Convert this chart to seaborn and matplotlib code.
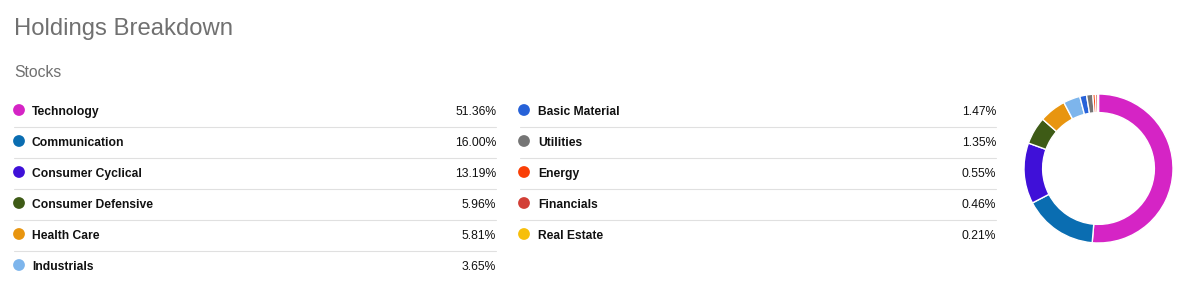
import matplotlib
matplotlib.use("Agg")
import matplotlib.pyplot as plt
import seaborn as sns
import pandas as pd

sns.set_style("white")
plt.rcParams['font.family'] = ['Liberation Sans', 'DejaVu Sans']

categories = ["Technology", "Communication", "Consumer Cyclical", "Consumer Defensive",
              "Health Care", "Industrials", "Basic Material", "Utilities", "Energy",
              "Financials", "Real Estate"]
values = [51.36, 16.00, 13.19, 5.96, 5.81, 3.65, 1.47, 1.35, 0.55, 0.46, 0.21]
colors = ["#d524c5", "#0a6db1", "#3f10d8", "#3e5b16", "#e8950f", "#7db5ec",
          "#2762d8", "#757575", "#fa3f06", "#d23f36", "#f7bf0b"]

W, H = 1201, 288
fig = plt.figure(figsize=(W / 100, H / 100), dpi=100)
fig.patch.set_facecolor("white")

# overlay axes in pixel coordinates
ax = fig.add_axes([0, 0, 1, 1])
ax.set_xlim(0, W)
ax.set_ylim(H, 0)
ax.axis("off")

ax.text(14, 35, "Holdings Breakdown", fontsize=17.2, color="#707070", va="baseline", ha="left")
ax.text(14, 77, "Stocks", fontsize=11.3, color="#707070", va="baseline", ha="left")

row0, dy = 110, 31
cols = [dict(dot=19, lab=32, val=496, l=14, r=496),
        dict(dot=524, lab=538, val=996, l=520, r=996)]
rows_per_col = 6

dot_x, dot_y = [], []
for i, (cat, v) in enumerate(zip(categories, values)):
    c = cols[i // rows_per_col]
    r = i % rows_per_col
    y = row0 + r * dy
    dot_x.append(c["dot"])
    dot_y.append(y)
    ax.text(c["lab"], y + 4.8, cat, fontsize=8.7, fontweight="bold", color="#111111",
            va="baseline", ha="left")
    ax.text(c["val"], y + 4.8, f"{v:.2f}%", fontsize=8.7, color="#111111",
            va="baseline", ha="right")
    n_in_col = min(rows_per_col, len(categories) - (i // rows_per_col) * rows_per_col)
    if r < n_in_col - 1:
        ax.plot([c["l"], c["r"]], [y + 16.5, y + 16.5], color="#e0e0e0", lw=0.8)

df = pd.DataFrame({"x": dot_x, "y": dot_y, "cat": categories})
sns.scatterplot(data=df, x="x", y="y", hue="cat", palette=dict(zip(categories, colors)),
                s=72, edgecolor="none", legend=False, ax=ax)
ax.set_xlim(0, W)
ax.set_ylim(H, 0)
ax.axis("off")

# donut
cx, cy, rad = 1098.5, 168.5, 74.5
pax = fig.add_axes([(cx - rad) / W, (H - cy - rad) / H, 2 * rad / W, 2 * rad / H])
pax.pie(values, colors=colors, startangle=90, counterclock=False, radius=1,
        wedgeprops=dict(width=0.25, edgecolor="white", linewidth=1.0))
pax.set_xlim(-1, 1)
pax.set_ylim(-1, 1)
pax.set_aspect("equal")
pax.axis("off")

fig.savefig("out.png", dpi=100, facecolor="white")
